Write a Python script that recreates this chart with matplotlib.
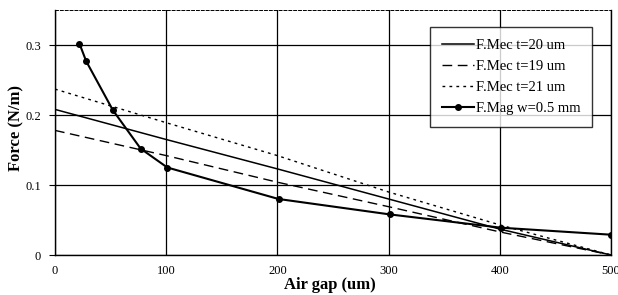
import numpy as np
import matplotlib.pyplot as plt

# ---------------------------------------------------------
# data
# ---------------------------------------------------------
gap_mec = [0, 100, 200, 300, 400, 500]
mec_t20 = [0.208, 0.165, 0.123, 0.080, 0.037, 0.0]
mec_t19 = [0.178, 0.142, 0.104, 0.069, 0.033, 0.0]
mec_t21 = [0.237, 0.189, 0.142, 0.090, 0.043, 0.0]

gap_mag = [22, 28, 52, 77, 101, 201, 301, 401, 500]
mag_w05 = [0.302, 0.277, 0.207, 0.152, 0.125, 0.080, 0.058, 0.039, 0.029]

x_ticks = [0, 100, 200, 300, 400, 500]
y_ticks = [0, 0.1, 0.2, 0.3]
y_labels = ["0", "0.1", "0.2", "0.3"]

plt.rcParams['font.family'] = ['Liberation Serif', 'DejaVu Serif']

fig = plt.figure(figsize=(6.18, 2.95), dpi=100)
ax = fig.add_axes([55 / 618, 40 / 295, 556 / 618, 245 / 295])

ax.plot(gap_mec, mec_t20, color='black', lw=1.1, ls='-', label='F.Mec t=20 um')
ax.plot(gap_mec, mec_t19, color='black', lw=1.0, ls=(0, (7, 4)), label='F.Mec t=19 um')
ax.plot(gap_mec, mec_t21, color='black', lw=1.0, ls=(0, (2, 3)), label='F.Mec t=21 um')
ax.plot(gap_mag, mag_w05, color='black', lw=1.5, marker='o', ms=4,
        label='F.Mag w=0.5 mm')

ax.set_xlim(0, 500)
ax.set_ylim(0, 0.35)
ax.set_xticks(x_ticks)
ax.set_yticks(y_ticks)
ax.set_yticklabels(y_labels)
ax.grid(True, color='black', lw=0.9)
ax.set_axisbelow(True)

ax.tick_params(axis='x', length=0, labelsize=9, pad=7)
ax.tick_params(axis='y', length=4, labelsize=9, pad=6)

ax.spines['top'].set_linestyle((0, (3, 2)))
ax.spines['top'].set_linewidth(0.7)
for s in ['left', 'bottom', 'right']:
    ax.spines[s].set_linewidth(1.0)

ax.set_xlabel('Air gap (um)', fontsize=12, fontweight='bold')
ax.xaxis.set_label_coords(0.495, -0.09)
ax.set_ylabel('Force (N/m)', fontsize=12, fontweight='bold')
ax.yaxis.set_label_coords(-0.055, 0.52)

leg = ax.legend(loc='upper right', bbox_to_anchor=(0.966, 0.931),
                fontsize=10.5, frameon=True, fancybox=False,
                edgecolor='black', handlelength=2.2, handletextpad=0.15,
                labelspacing=0.55, borderpad=0.8, borderaxespad=0)
leg.get_frame().set_linewidth(1.0)

fig.savefig('out.png', dpi=100)
